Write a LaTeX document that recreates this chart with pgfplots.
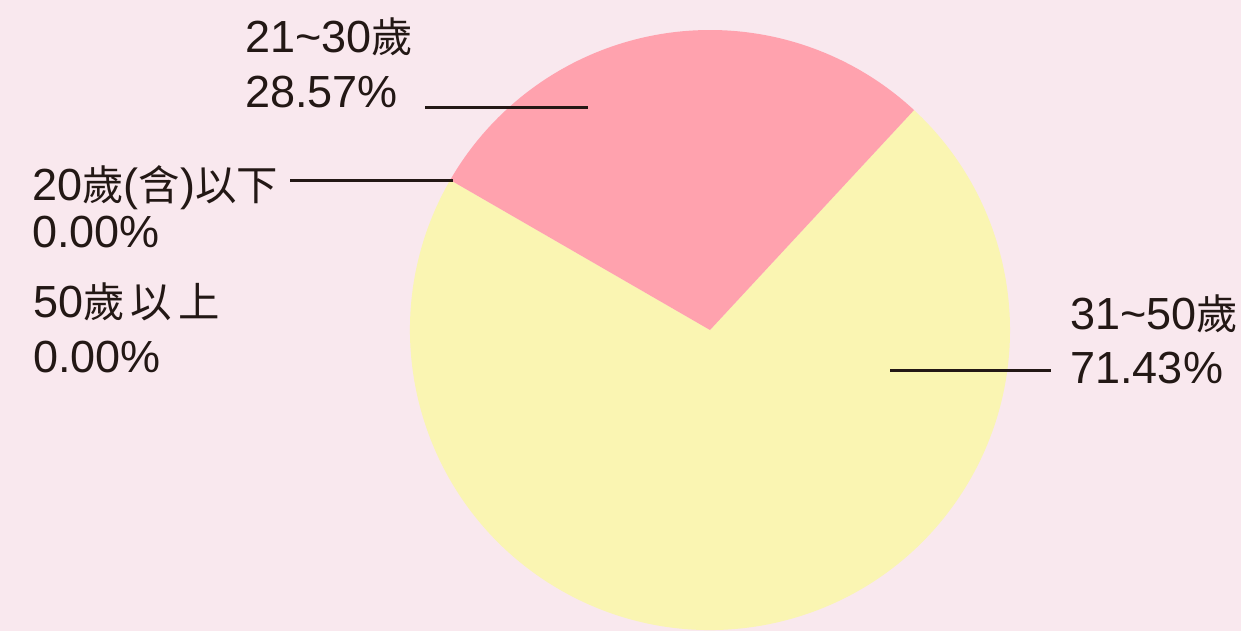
\documentclass[border=0pt]{standalone}
\usepackage{fontspec}
\setmainfont{Liberation Sans}
\newfontfamily\cjk[Scale=0.92]{Noto Sans CJK TC}
\usepackage{pgfplots}
\pgfplotsset{compat=1.18}
\usepackage{pgfplotstable}
\definecolor{bgc}{HTML}{F9E8EE}
\definecolor{pinkc}{HTML}{FFA2AE}
\definecolor{yelc}{HTML}{FAF5B2}
\definecolor{txt}{HTML}{231815}
% age group shares (%)
\pgfplotstableread{
group value
a20 0.00
a21 28.57
a31 71.43
a50 0.00
}\agetable
\pgfplotstablegetelem{1}{value}\of\agetable \let\vpink\pgfplotsretval
\pgfplotstablegetelem{2}{value}\of\agetable \let\vyel\pgfplotsretval
\begin{document}
\begin{tikzpicture}
\pgfmathsetmacro{\dpink}{-\vpink*3.6}
\pgfmathsetmacro{\dyel}{\vyel*3.6}
\begin{axis}[
  scale only axis, width=620.5pt, height=315.5pt,
  xmin=0, xmax=1241, ymin=0, ymax=631, y dir=reverse,
  hide axis, clip=false,
]
\fill[bgc] (axis cs:0,0) rectangle (axis cs:1241,631);
\fill[yelc] (axis cs:710,330) -- ++(150:150pt) arc[start angle=150, delta angle=\dyel, radius=150pt] -- cycle;
\fill[pinkc] (axis cs:710,330) -- ++(150:150pt) arc[start angle=150, delta angle=\dpink, radius=150pt] -- cycle;
\addplot[txt, line width=1.5pt] coordinates {(425,107) (588,107)};
\addplot[txt, line width=1.5pt] coordinates {(290,180) (453,180)};
\addplot[txt, line width=1.5pt] coordinates {(890,370) (1051,370)};
\begin{scope}[every node/.style={anchor=base west, inner sep=0pt, text=txt, font=\fontsize{22.5pt}{27pt}\selectfont}]
\node at (axis cs:245,52) {21\textasciitilde30{\cjk 歲}};
\node at (axis cs:245,107) {28.57\%};
\node at (axis cs:32,200) {20{\cjk 歲}({\cjk 含}){\cjk 以下}};
\node at (axis cs:32,247) {0.00\%};
\node at (axis cs:33,317) {50{\cjk 歲\hspace{3pt}以\hspace{3pt}上}};
\node at (axis cs:33,372) {0.00\%};
\node at (axis cs:1070,329) {31\textasciitilde50{\cjk 歲}};
\node at (axis cs:1070,383) {71.43\%};
\end{scope}
\end{axis}
\pgfresetboundingbox
\useasboundingbox (current axis.south west) rectangle (current axis.north east);
\end{tikzpicture}
\end{document}
